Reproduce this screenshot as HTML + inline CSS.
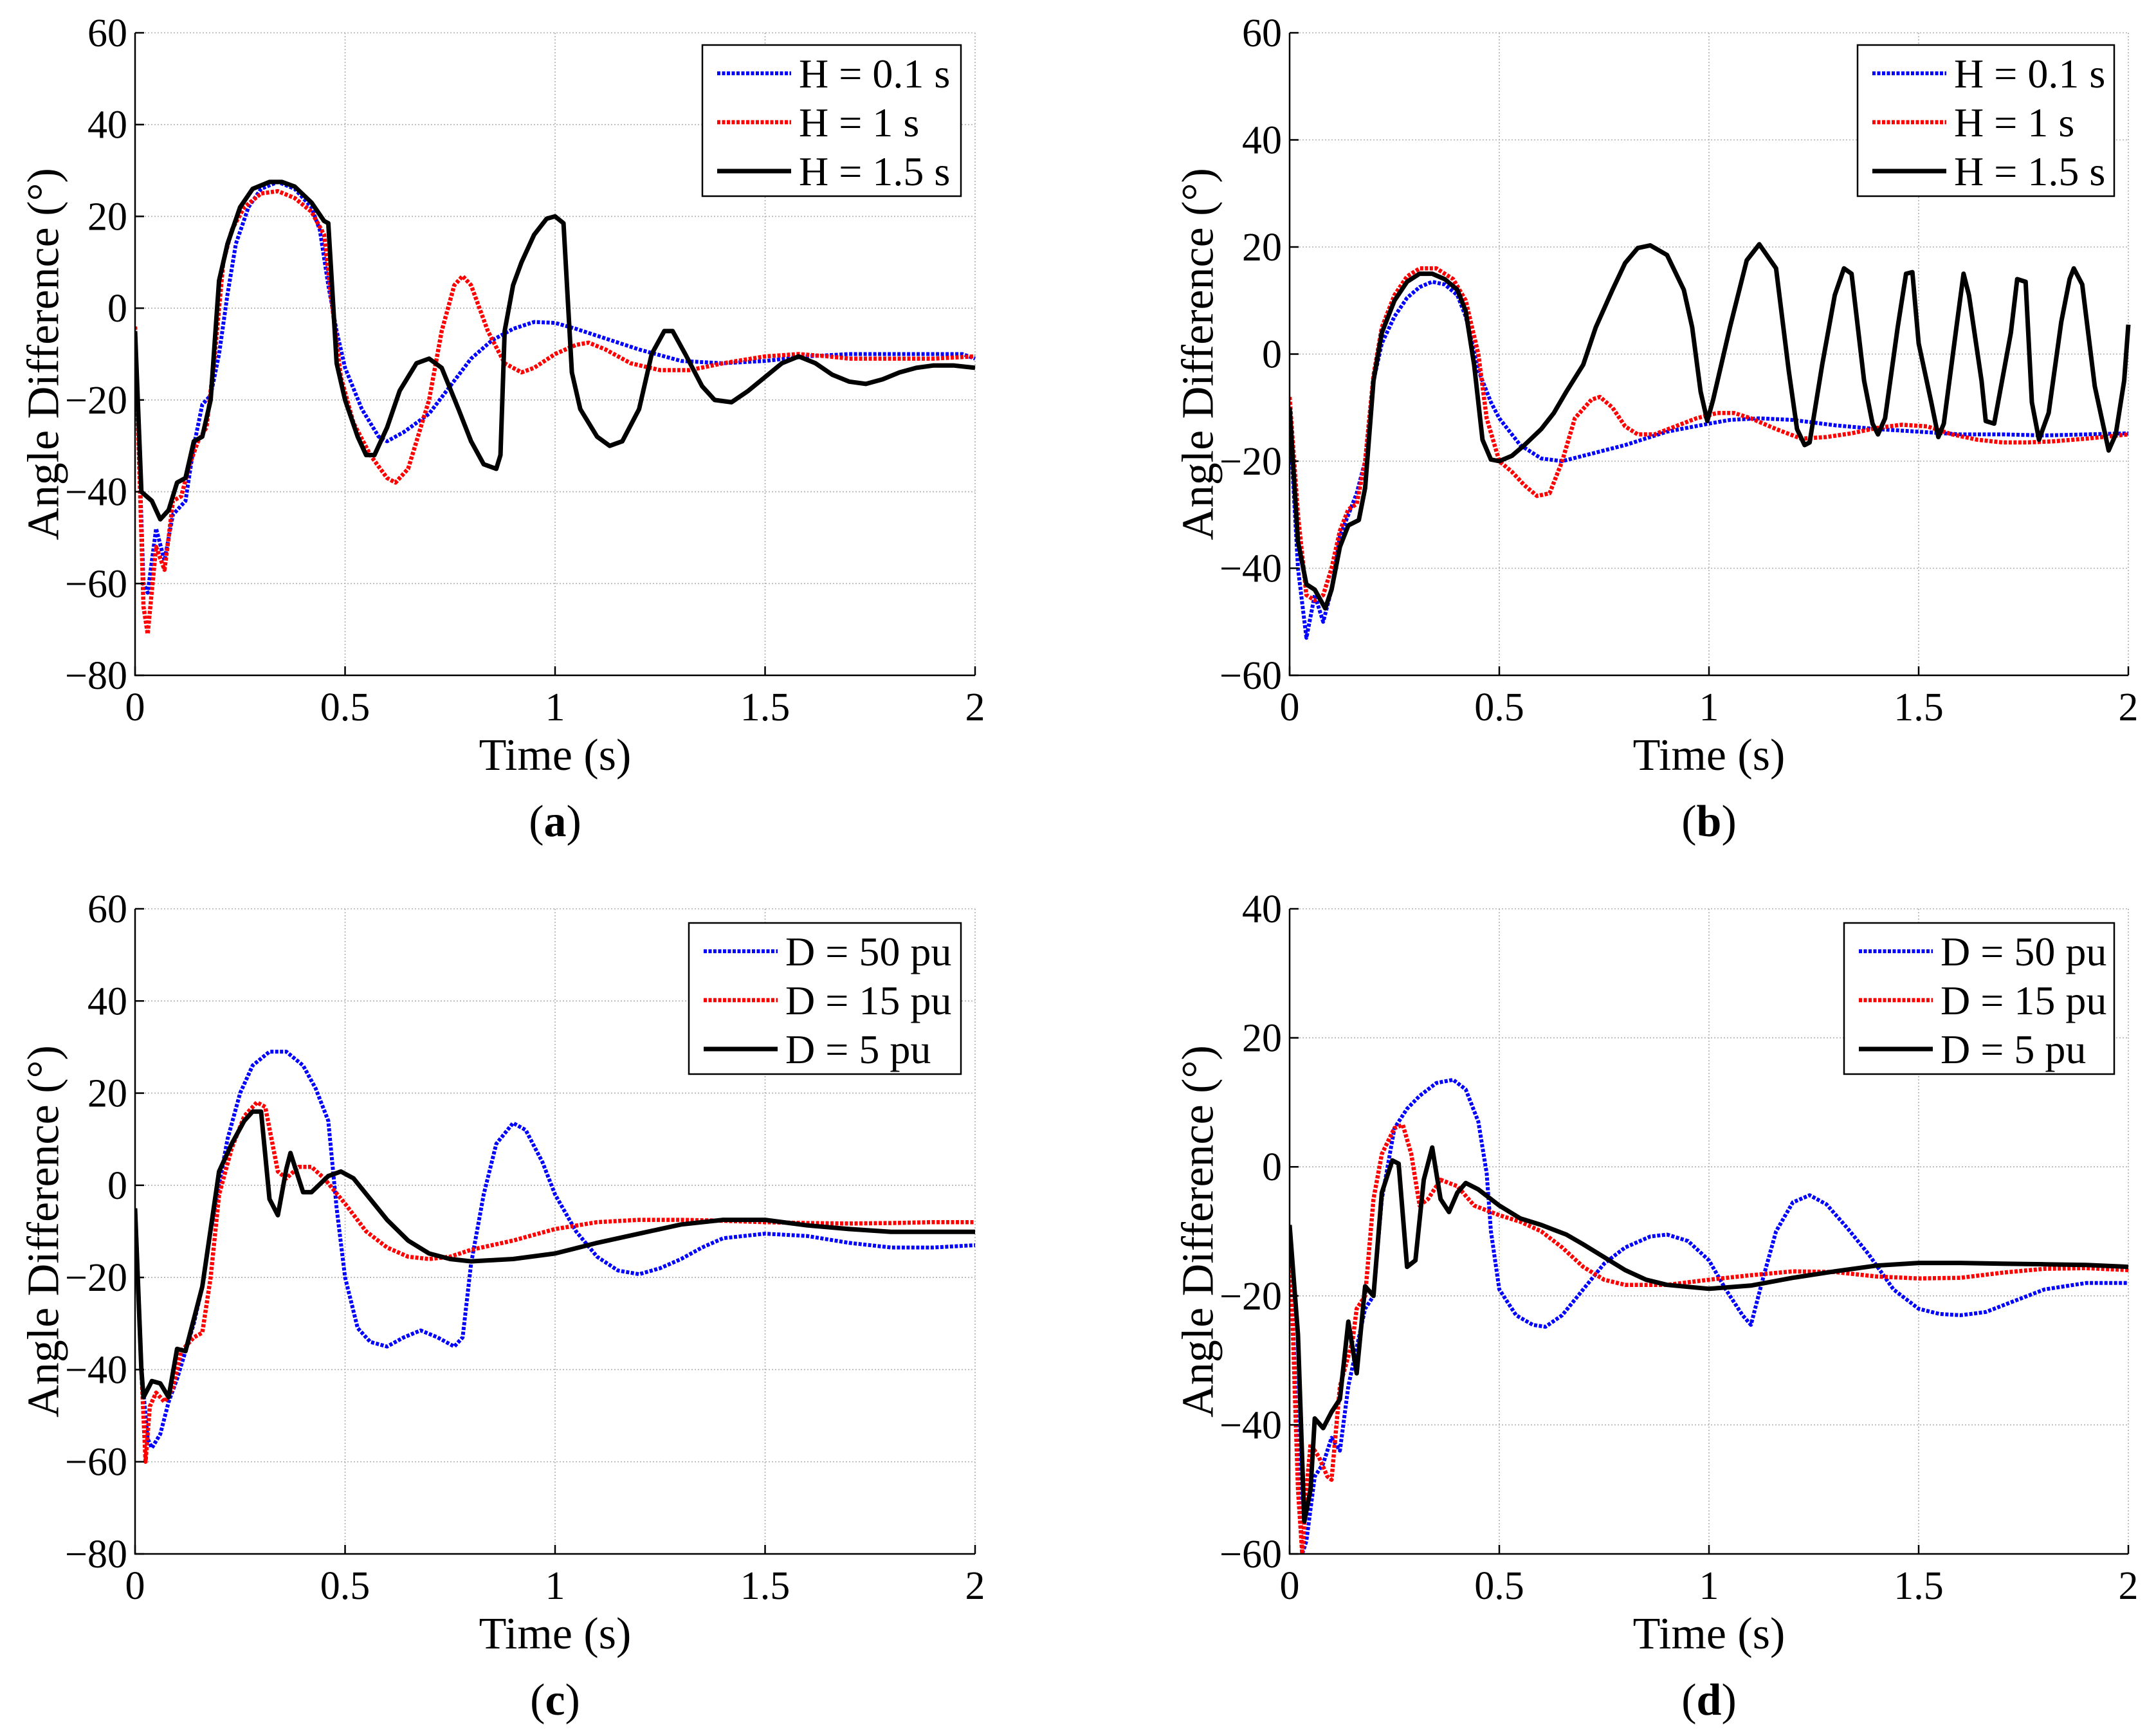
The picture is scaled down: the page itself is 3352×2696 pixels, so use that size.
<!DOCTYPE html>
<html><head><meta charset="utf-8"><style>
html,body{margin:0;padding:0;background:#fff}
svg{display:block;font-family:"Liberation Serif","DejaVu Serif",serif}
svg text{font-family:"Liberation Serif","DejaVu Serif",serif;fill:#000}
</style></head><body>
<svg id="fig" width="3352" height="2696" viewBox="0 0 3352 2696" xmlns="http://www.w3.org/2000/svg"></svg>
<script>
// ---------- Data (panel a: inertia H) ----------
const aBlueT=[0,0.02,0.03,0.05,0.07,0.09,0.12,0.14,0.16,0.18,0.2,0.22,0.24,0.27,0.3,0.34,0.38,0.42,0.44,0.46,0.48,0.5,0.54,0.58,0.6,0.64,0.7,0.75,0.8,0.85,0.9,0.95,1.0,1.05,1.1,1.2,1.3,1.4,1.5,1.6,1.7,1.8,1.9,1.97,2.0];
const aBlueV=[-4,-60,-62,-48,-55,-45,-42,-30,-21,-19,-10,3,14,22,26,27.5,26,22,17,5,-5,-13,-22,-28,-29,-27,-23,-17,-11,-7,-4.5,-3,-3.2,-4.5,-6,-9,-11.5,-12,-11.5,-10.5,-10,-10,-10,-10,-11];
const aRedT=[0,0.02,0.03,0.05,0.07,0.08,0.09,0.11,0.13,0.15,0.17,0.19,0.21,0.23,0.26,0.3,0.34,0.38,0.42,0.45,0.47,0.49,0.52,0.56,0.6,0.62,0.65,0.7,0.73,0.76,0.78,0.8,0.84,0.88,0.92,0.95,1.0,1.05,1.08,1.12,1.18,1.25,1.32,1.4,1.5,1.58,1.65,1.7,1.8,1.9,2.0];
const aRedV=[-4,-65,-71,-52,-57,-50,-42,-41,-34,-29,-26,-10,10,17,22,25,25.5,24,21,16,0,-15,-25,-32,-37,-38,-35,-20,-5,5,7,5,-5,-12,-14,-13,-10,-8,-7.5,-9,-12,-13.5,-13.5,-12,-10.5,-10,-10.5,-11,-11,-11,-10.5];
const aBlackT=[0,0.015,0.04,0.06,0.08,0.1,0.12,0.14,0.16,0.18,0.2,0.22,0.25,0.28,0.32,0.35,0.38,0.42,0.45,0.46,0.48,0.5,0.53,0.55,0.57,0.6,0.63,0.67,0.7,0.73,0.77,0.8,0.83,0.86,0.87,0.88,0.9,0.92,0.95,0.98,1.0,1.02,1.04,1.06,1.1,1.13,1.16,1.2,1.23,1.26,1.28,1.31,1.35,1.38,1.42,1.46,1.5,1.54,1.58,1.62,1.66,1.7,1.74,1.78,1.82,1.86,1.9,1.95,2.0];
const aBlackV=[-5,-40,-42,-46,-44,-38,-37,-29,-28,-20,6,14,22,26,27.5,27.5,26.5,23,19,18.5,-12,-20,-28,-32,-32,-26,-18,-12,-11,-13,-22,-29,-34,-35,-32,-5,5,10,16,19.5,20,18.5,-14,-22,-28,-30,-29,-22,-10,-5,-5,-10,-17,-20,-20.5,-18,-15,-12,-10.5,-12,-14.5,-16,-16.5,-15.5,-14,-13,-12.5,-12.5,-13];
// ---------- panel b ----------
const bBlueT=[0,0.02,0.04,0.06,0.08,0.1,0.12,0.14,0.16,0.18,0.2,0.22,0.25,0.28,0.31,0.34,0.37,0.4,0.42,0.45,0.48,0.5,0.55,0.6,0.65,0.7,0.8,0.9,1.0,1.05,1.12,1.2,1.3,1.4,1.5,1.6,1.7,1.8,1.9,2.0];
const bBlueV=[-12,-40,-53,-45,-50,-44,-34,-30,-26,-20,-5,2,7,10.5,12.5,13.5,13,11,7,-3,-9,-12,-17,-19.5,-20,-19,-17,-14.5,-13,-12.3,-12,-12.3,-13.3,-14,-14.5,-15,-15,-15.2,-15,-14.8];
const bRedT=[0,0.02,0.04,0.06,0.08,0.1,0.12,0.14,0.16,0.18,0.2,0.22,0.25,0.28,0.31,0.35,0.39,0.42,0.45,0.47,0.5,0.53,0.56,0.59,0.62,0.65,0.68,0.72,0.74,0.77,0.8,0.83,0.87,0.92,0.97,1.02,1.06,1.1,1.16,1.22,1.28,1.34,1.4,1.46,1.52,1.58,1.64,1.7,1.76,1.82,1.9,2.0];
const bRedV=[-8,-30,-45,-46,-45,-40,-33,-29,-28,-20,-4,5,11,14.5,16,16,14,10,0,-12,-20,-22,-24.5,-26.5,-26,-20,-12,-8.5,-8,-10,-13.5,-15,-15,-13.5,-12,-11,-11,-12,-14,-15.8,-15.5,-14.8,-13.8,-13.2,-13.5,-15,-16,-16.5,-16.5,-16.3,-15.8,-15];
const bBlackT=[0,0.02,0.04,0.06,0.085,0.1,0.12,0.14,0.165,0.18,0.2,0.22,0.25,0.28,0.31,0.34,0.37,0.4,0.42,0.44,0.46,0.48,0.5,0.53,0.56,0.6,0.63,0.66,0.7,0.73,0.77,0.8,0.83,0.86,0.9,0.94,0.96,0.98,0.996,1.01,1.05,1.09,1.12,1.16,1.19,1.21,1.228,1.24,1.27,1.3,1.322,1.34,1.37,1.39,1.403,1.42,1.45,1.47,1.485,1.5,1.53,1.547,1.56,1.59,1.607,1.62,1.65,1.66,1.68,1.72,1.735,1.755,1.77,1.787,1.81,1.84,1.86,1.87,1.89,1.92,1.953,1.97,1.99,2.0];
const bBlackV=[-10,-35,-43,-44,-47.5,-44,-36,-32,-31,-25,-5,4,10,13.5,15,15,14,12,8,-2,-16,-19.7,-20,-19,-17,-14,-11,-7,-2,5,12,17,19.8,20.3,18.5,12,5,-7,-12.5,-8.5,5,17.5,20.5,16,-3,-14,-17,-16.5,-2,11,16,15,-5,-13,-15,-12,5,15,15.3,2,-9,-15.5,-13,5,15,11,-5,-12.5,-13,4,14,13.5,-9,-16,-11,6,14,16,13,-6,-18,-15,-5,5.5];
// ---------- panel c: damping D ----------
const cBlueT=[0,0.015,0.03,0.04,0.06,0.08,0.1,0.12,0.14,0.16,0.18,0.2,0.22,0.25,0.28,0.32,0.36,0.4,0.43,0.46,0.48,0.5,0.53,0.56,0.6,0.64,0.68,0.72,0.76,0.78,0.8,0.83,0.86,0.9,0.93,0.97,1.0,1.05,1.1,1.15,1.2,1.25,1.3,1.35,1.4,1.5,1.6,1.7,1.8,1.9,2.0];
const cBlueV=[-5,-40,-55,-57,-54,-47,-42,-36,-30,-22,-10,0,10,20,26,29,29,26,21,14,-5,-20,-31,-34,-35,-33,-31.5,-33,-35,-33,-17,-2,9,13.5,12,5,-2,-10,-15.5,-18.5,-19.3,-18,-16,-13.5,-11.5,-10.5,-11,-12.5,-13.5,-13.5,-13];
const cRedT=[0,0.015,0.025,0.035,0.05,0.07,0.09,0.11,0.14,0.16,0.18,0.2,0.23,0.26,0.29,0.31,0.34,0.36,0.39,0.42,0.45,0.5,0.55,0.6,0.65,0.7,0.75,0.8,0.9,1.0,1.1,1.2,1.3,1.4,1.5,1.6,1.7,1.8,1.9,2.0];
const cRedV=[-5,-40,-60,-48,-45,-47,-44,-36,-33,-32,-20,-2,8,15,18,17,3,1.5,4,4,1.5,-4,-10,-13.5,-15.5,-16,-15.5,-14,-12,-9.5,-8,-7.5,-7.5,-7.7,-8,-8.2,-8.3,-8.2,-8,-8];
const cBlackT=[0,0.015,0.02,0.04,0.06,0.08,0.1,0.12,0.16,0.2,0.23,0.26,0.28,0.3,0.32,0.34,0.36,0.37,0.4,0.42,0.46,0.49,0.52,0.56,0.6,0.65,0.7,0.75,0.8,0.9,1.0,1.1,1.2,1.3,1.4,1.5,1.6,1.7,1.8,1.9,2.0];
const cBlackV=[-5,-40,-46,-42.5,-43,-46,-35.5,-36,-22,3,9,14,16,16,-3,-6.5,3.5,7,-1.5,-1.5,2,3,1.5,-3,-7.5,-12,-14.8,-16,-16.5,-16,-14.8,-12.5,-10.5,-8.5,-7.5,-7.5,-8.7,-9.5,-10.1,-10.1,-10.1];
// ---------- panel d ----------
const dBlueT=[0,0.02,0.03,0.04,0.06,0.08,0.1,0.12,0.14,0.16,0.18,0.2,0.22,0.25,0.28,0.31,0.35,0.39,0.42,0.45,0.47,0.48,0.5,0.54,0.58,0.61,0.65,0.7,0.75,0.8,0.86,0.9,0.95,1.0,1.04,1.08,1.1,1.13,1.16,1.2,1.24,1.28,1.33,1.38,1.44,1.5,1.55,1.6,1.66,1.72,1.8,1.9,2.0];
const dBlueV=[-10,-45,-60,-58,-48,-46,-42,-44,-34,-28,-22,-20,-5,6,9,11,13,13.5,12,7,-1,-10,-19,-23,-24.5,-24.8,-23,-19,-15,-12.5,-10.8,-10.5,-11.5,-14.5,-19,-23,-24.5,-17,-10,-5.5,-4.4,-5.8,-9.5,-13.5,-19,-22,-22.8,-23,-22.5,-21,-19,-18,-18];
const dRedT=[0,0.02,0.03,0.04,0.05,0.07,0.09,0.1,0.12,0.15,0.16,0.18,0.2,0.22,0.25,0.27,0.29,0.31,0.33,0.36,0.4,0.44,0.5,0.55,0.6,0.65,0.7,0.75,0.8,0.9,1.0,1.1,1.2,1.3,1.4,1.5,1.6,1.7,1.8,1.9,2.0];
const dRedV=[-10,-50,-60,-50,-43,-45,-48,-48.5,-34,-27,-22,-20,-5,2,6,6.5,2,-6,-5,-2,-3,-6,-7.5,-8.5,-10,-12.5,-15.5,-17.5,-18.3,-18.3,-17.5,-16.8,-16.2,-16.3,-17,-17.3,-17.2,-16.4,-15.8,-15.7,-16];
const dBlackT=[0,0.02,0.035,0.05,0.06,0.08,0.1,0.12,0.14,0.16,0.18,0.2,0.22,0.245,0.26,0.28,0.3,0.32,0.34,0.36,0.38,0.4,0.42,0.45,0.5,0.55,0.6,0.66,0.7,0.75,0.8,0.85,0.9,1.0,1.1,1.2,1.3,1.4,1.5,1.6,1.7,1.8,1.9,2.0];
const dBlackV=[-9,-26,-55,-50,-39,-40.5,-38,-36,-24,-32,-18.5,-20,-4,1,0.5,-15.5,-14.5,-2,3,-5,-7,-4,-2.5,-3.5,-6,-8,-9,-10.5,-12,-14,-16,-17.5,-18.3,-18.9,-18.4,-17.2,-16.2,-15.3,-14.9,-14.9,-15,-15.1,-15.2,-15.5];
const xTicks=[0,0.5,1,1.5,2];
const xTickLabels=["0","0.5","1","1.5","2"];
const ticksA=[60,40,20,0,-20,-40,-60,-80];
const ticksB=[60,40,20,0,-20,-40,-60];
const ticksD=[40,20,0,-20,-40,-60];
const legendH=["H = 0.1 s","H = 1 s","H = 1.5 s"];
const legendD=["D = 50 pu","D = 15 pu","D = 5 pu"];

const NS="http://www.w3.org/2000/svg";
const FONT='"Liberation Serif", "DejaVu Serif", serif';
const svg=document.getElementById('fig');
function mk(tag,attrs,parent){const e=document.createElementNS(NS,tag);for(const k in attrs)e.setAttribute(k,attrs[k]);if(tag==='text'){e.style.fontFamily=FONT;}(parent||svg).appendChild(e);return e;}

const styles=[
 {stroke:"#0000ff",w:6,dash:"5 2.5"},
 {stroke:"#ff0000",w:6.5,dash:"5 2.5"},
 {stroke:"#000000",w:7,dash:""}
];

function panel(cfg){
  const g=mk('g',{});
  
  
  const {x0,x1,y0,y1,ymax,ymin}=cfg;
  const X=t=>x0+(t/2)*(x1-x0);
  const Y=v=>y0+(ymax-v)/(ymax-ymin)*(y1-y0);
  xTicks.forEach(t=>{
    const l=mk('line',{x1:X(t),x2:X(t),y1:y0,y2:y1,stroke:"#b0b0b0","stroke-width":1.6,"stroke-dasharray":"2 3"},g);
    
    
  });
  cfg.yticks.forEach(v=>{
    const l=mk('line',{x1:x0,x2:x1,y1:Y(v),y2:Y(v),stroke:"#b0b0b0","stroke-width":1.6,"stroke-dasharray":"2 3"},g);
    
    
  });
  const cid='clip'+cfg.id;
  const cp=mk('clipPath',{id:cid},g);
  mk('rect',{x:x0,y:y0-3,width:x1-x0+4,height:y1-y0+3},cp);
  const sg=mk('g',{'clip-path':'url(#'+cid+')'},g);
  cfg.series.forEach((s,i)=>{
    const st=styles[i];
    const d=s.t.map((t,k)=>(k?'L':'M')+X(t).toFixed(1)+' '+Y(s.v[k]).toFixed(1)).join(' ');
    const p=mk('path',{d:d,fill:'none',stroke:st.stroke,'stroke-width':st.w,'stroke-linejoin':'round'},sg);
    if(st.dash)p.setAttribute('stroke-dasharray',st.dash);
    
    
  });
  const ax=mk('path',{d:`M${x0} ${y0} L${x0} ${y1} L${x1} ${y1}`,fill:'none',stroke:'#000','stroke-width':2.5},g);
  
  
  xTicks.forEach((t,i)=>{
    mk('line',{x1:X(t),x2:X(t),y1:y1,y2:y1-14,stroke:'#000','stroke-width':2.5},g);
    const tx=mk('text',{x:X(t),y:y1+70,'text-anchor':'middle','font-size':62},g);
    tx.textContent=xTickLabels[i];
    
    
  });
  cfg.yticks.forEach(v=>{
    mk('line',{x1:x0,x2:x0+14,y1:Y(v),y2:Y(v),stroke:'#000','stroke-width':2.5},g);
    const tx=mk('text',{x:x0-12,y:Y(v)+21,'text-anchor':'end','font-size':62},g);
    tx.textContent=v<0?'\u2212'+(-v):String(v);
    
    
  });
  const xt=mk('text',{x:(x0+x1)/2,y:y1+147,'text-anchor':'middle','font-size':70},g);
  xt.textContent='Time (s)';
  
  
  const cy=(y0+y1)/2, cx=x0-142;
  const yt=mk('text',{x:cx,y:cy,'text-anchor':'middle','font-size':70,transform:`rotate(-90 ${cx} ${cy})`,'dominant-baseline':'central'},g);
  yt.textContent='Angle Difference (°)';
  
  
  const cap=mk('text',{x:(x0+x1)/2,y:y1+250,'text-anchor':'middle','font-size':70},g);
  cap.innerHTML='(<tspan font-weight="bold">'+cfg.letter+'</tspan>)';
  
  
  const L=cfg.legend;
  const lg=mk('g',{},g);
  
  
  mk('rect',{x:L.x,y:L.y,width:x1-22-L.x,height:235,fill:'#fff',stroke:'#000','stroke-width':2.5},lg);
  cfg.labels.forEach((lab,i)=>{
    const ry=L.y+44+i*76;
    const st=styles[i];
    const ln=mk('line',{x1:L.x+23,x2:L.x+138,y1:ry,y2:ry,stroke:st.stroke,'stroke-width':st.w},lg);
    if(st.dash)ln.setAttribute('stroke-dasharray',st.dash);
    
    
    const tx=mk('text',{x:L.x+150,y:ry+22,'font-size':64},lg);
    tx.textContent=lab;
    
    
  });
}

const XL=[210,1516], XR=[2005,3309];
panel({id:'a',name:'panel-a',letter:'a',x0:XL[0],x1:XL[1],y0:51,y1:1050,ymax:60,ymin:-80,yticks:ticksA,
  legend:{x:1092,y:70},labels:legendH,
  series:[{t:aBlueT,v:aBlueV,name:'series-h-0-1'},{t:aRedT,v:aRedV,name:'series-h-1'},{t:aBlackT,v:aBlackV,name:'series-h-1-5'}]});
panel({id:'b',name:'panel-b',letter:'b',x0:XR[0],x1:XR[1],y0:51,y1:1050,ymax:60,ymin:-60,yticks:ticksB,
  legend:{x:2888,y:70},labels:legendH,
  series:[{t:bBlueT,v:bBlueV,name:'series-h-0-1'},{t:bRedT,v:bRedV,name:'series-h-1'},{t:bBlackT,v:bBlackV,name:'series-h-1-5'}]});
panel({id:'c',name:'panel-c',letter:'c',x0:XL[0],x1:XL[1],y0:1413,y1:2416,ymax:60,ymin:-80,yticks:ticksA,
  legend:{x:1071,y:1435},labels:legendD,
  series:[{t:cBlueT,v:cBlueV,name:'series-d-50'},{t:cRedT,v:cRedV,name:'series-d-15'},{t:cBlackT,v:cBlackV,name:'series-d-5'}]});
panel({id:'d',name:'panel-d',letter:'d',x0:XR[0],x1:XR[1],y0:1413,y1:2416,ymax:40,ymin:-60,yticks:ticksD,
  legend:{x:2867,y:1435},labels:legendD,
  series:[{t:dBlueT,v:dBlueV,name:'series-d-50'},{t:dRedT,v:dRedV,name:'series-d-15'},{t:dBlackT,v:dBlackV,name:'series-d-5'}]});
</script>
</body></html>
